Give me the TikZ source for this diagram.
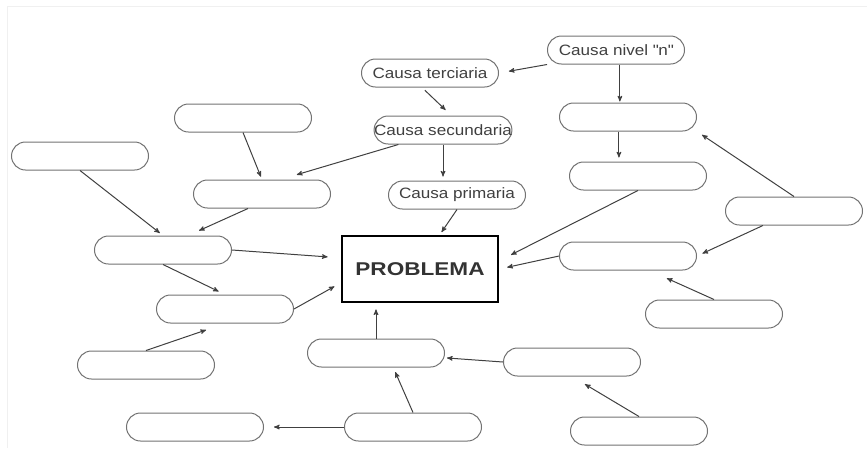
\documentclass[tikz,border=0pt]{standalone}
\usepackage{fontspec}
\setmainfont[FakeStretch=1.14]{Liberation Sans}
\newfontfamily\probfont[FakeStretch=1.22]{Liberation Sans}
\usepackage{tikz}
\usetikzlibrary{arrows}

\begin{document}
\begin{tikzpicture}[->,>=stealth',shorten >=1pt,auto,x=1pt,y=-1pt,
                    semithick]
  \tikzstyle{causa}=[rectangle,rounded corners=14pt,draw=black!55,fill=white,text=black!75,
                     minimum width=137pt,minimum height=28pt,inner sep=0pt,line width=1pt,
                     font=\fontsize{15}{18}\selectfont]
  \tikzstyle{problema}=[rectangle,draw=black,fill=white,line width=2.8pt,text=black!80,
                        minimum width=156pt,minimum height=66pt,
                        font=\probfont\bfseries\fontsize{18.5}{22}\selectfont]
  \tikzstyle{every edge}=[draw=black!75,line width=1pt]

  \useasboundingbox (0,0) rectangle (868,448);
  \draw[-,black!6,line width=1pt] (7,448) -- (7,6) -- (868,6);

  \node[problema] (prob) at (420,269) {PROBLEMA};

  \node[causa] (nivel)      at (616,50)  {Causa nivel \textquotedbl n\textquotedbl};
  \node[causa] (terciaria)  at (430,73)  {Causa terciaria};
  \node[causa] (secundaria) at (443,130) {Causa secundaria};
  \node[causa] (primaria)   at (457,195) {Causa primaria};

  \node[causa] (ra) at (628,117) {};
  \node[causa] (rb) at (638,176) {};
  \node[causa] (rc) at (794,211) {};
  \node[causa] (rd) at (628,256) {};
  \node[causa] (re) at (714,314) {};

  \node[causa] (la) at (243,118) {};
  \node[causa] (lb) at (80,156)  {};
  \node[causa] (lc) at (262,194) {};
  \node[causa] (ld) at (163,250) {};
  \node[causa] (le) at (225,309) {};
  \node[causa] (lf) at (146,365) {};

  \node[causa] (bm) at (376,353) {};
  \node[causa] (bl) at (195,427) {};
  \node[causa] (bc) at (413,427) {};
  \node[causa] (mr) at (572,362) {};
  \node[causa] (br) at (639,431) {};

  \path (nivel.south west) edge[shorten >=10pt] (terciaria.east)
        (nivel.285) edge (nivel.285 |- ra.north)
        (terciaria.241) edge[shorten <=4pt,shorten >=8pt] (secundaria.60)
        (secundaria.south) edge[shorten >=4pt] (secundaria.south |- primaria.north)
        (secundaria.198) edge[shorten >=17pt] (lc.38)
        (primaria.south) edge[shorten >=3pt] (prob.60)
        (ra.238) edge[shorten >=4pt] (ra.238 |- rb.north)
        (rb.south) edge[shorten >=13pt] (prob.6)
        (rc.north) edge[shorten >=6pt] (ra.south east)
        (rc.205) edge[shorten >=6pt] (rd.east)
        (rd.west) edge[shorten >=8pt] (prob.east)
        (re.north) edge[shorten >=19pt] (rd.326)
        (la.south) edge[shorten >=3pt] (lc.north)
        (lb.south) edge[shorten >=4pt] (ld.north)
        (lc.226) edge[shorten >=12pt] (ld.30)
        (ld.east) edge[shorten >=13pt] (prob.172)
        (ld.south) edge[shorten >=7pt] (le.north)
        (le.east) edge[shorten >=7pt] (prob.190)
        (lf.north) edge[shorten >=20pt] (le.south)
        (bm.north) edge[shorten >=6pt] (bm.north |- prob.south)
        (bc.north) edge[shorten >=5pt] (bm.320)
        (bc.west) edge[shorten >=10pt] (bl.east)
        (mr.west) edge[shorten >=2pt] (bm.356)
        (br.north) edge[shorten >=15pt] (mr.south);
\end{tikzpicture}
\end{document}
